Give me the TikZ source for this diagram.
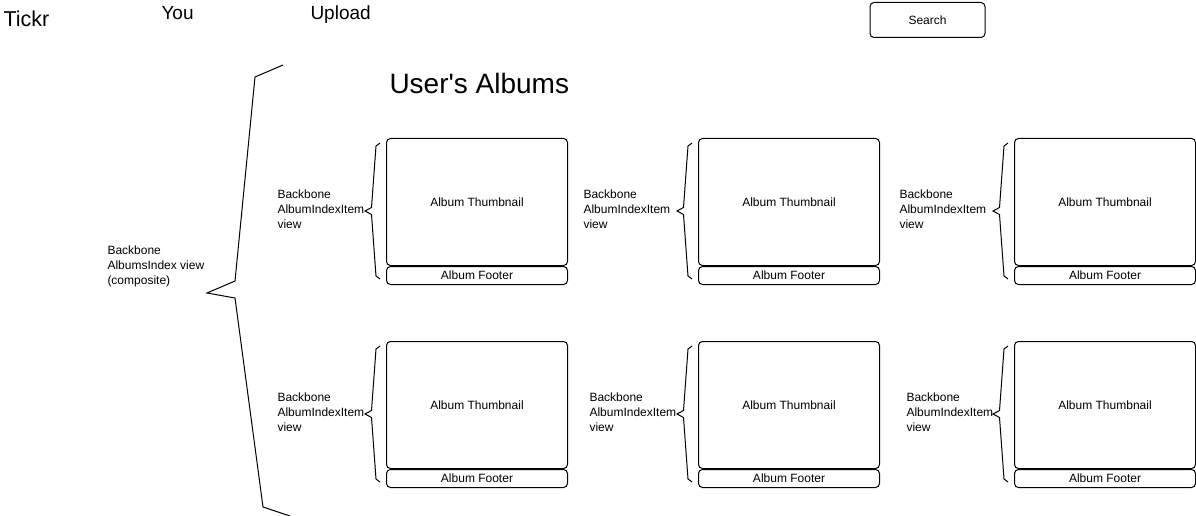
\documentclass[tikz,border=0pt]{standalone}
\usepackage{fontspec}
\setmainfont{Liberation Sans}[Ligatures=TeXOff]
\begin{document}
\begin{tikzpicture}[x=1pt,y=-1pt,line width=1pt,
  thumb/.style={draw,rounded corners=4pt,minimum width=181pt,minimum height=127pt,anchor=north west,inner sep=0pt,font=\fontsize{12}{15}\selectfont},
  footer/.style={draw,rounded corners=4pt,minimum width=181pt,minimum height=18pt,anchor=north west,inner sep=0pt,font=\fontsize{12}{15}\selectfont},
  lbl/.style={anchor=west,align=left,inner sep=0pt,font=\fontsize{12}{15}\selectfont},
  menu/.style={anchor=base west,inner sep=0pt,font=\fontsize{19}{22}\selectfont},
  brace/.style={draw,line join=miter}]
\useasboundingbox (0,0) rectangle (1196,516);
% header
\node[anchor=base west,inner sep=0pt,font=\fontsize{21.5}{24}\selectfont] (tickr) at (3,26.5) {Tickr};
\node[menu] (you) at (161,20) {You};
\node[menu] (upload) at (310,20) {Upload};
\node[draw,rounded corners=4pt,minimum width=115pt,minimum height=35pt,inner sep=0pt,font=\fontsize{12}{15}\selectfont] (search) at (927.5,20) {Search};
\node[anchor=base west,inner sep=0pt,font=\fontsize{28}{32}\selectfont] (title) at (389,94) {User's Albums};
% composite label and big brace
\node[lbl] (comp) at (107,266.5) {Backbone\\AlbumsIndex view\\(composite)};
\draw[brace] (283,65) -- (255,77) -- (235,281) -- (207,293) -- (235,298) -- (263,507) -- (290,516);
% albums
\foreach \r/\T/\ly in {1/138/209, 2/341/412}{
  \foreach \c/\L/\lx in {1/386/277, 2/698/583, 3/1014/899}{
    \node[thumb] (t\r\c) at (\L,\T) {};
    \node[font=\fontsize{12}{15}\selectfont,inner sep=0pt] (tt\r\c) at (t\r\c.center) {Album Thumbnail};
    \node[footer] (f\r\c) at (t\r\c.south west) {Album Footer};
  }
}
\node[lbl] (l11) at (277,209.5) {Backbone\\AlbumIndexItem\\view};
\node[lbl] (l12) at (583,209.5) {Backbone\\AlbumIndexItem\\view};
\node[lbl] (l13) at (899,209.5) {Backbone\\AlbumIndexItem\\view};
\node[lbl] (l21) at (277,412.5) {Backbone\\AlbumIndexItem\\view};
\node[lbl] (l22) at (589,412.5) {Backbone\\AlbumIndexItem\\view};
\node[lbl] (l23) at (906,412.5) {Backbone\\AlbumIndexItem\\view};
% small braces
\foreach \r/\T in {1/138, 2/341}{
  \foreach \L in {386, 698, 1014}{
    \pgfmathsetmacro{\B}{\T+146}
    \pgfmathsetmacro{\M}{\T+73}
    \draw[brace] (\L-6,\T+5) -- (\L-10,\T+8) -- (\L-14.5,\M-3.5) -- (\L-21,\M) -- (\L-14.5,\M+3.5) -- (\L-10,\B-8) -- (\L-6,\B-5);
  }
}
\end{tikzpicture}
\end{document}
